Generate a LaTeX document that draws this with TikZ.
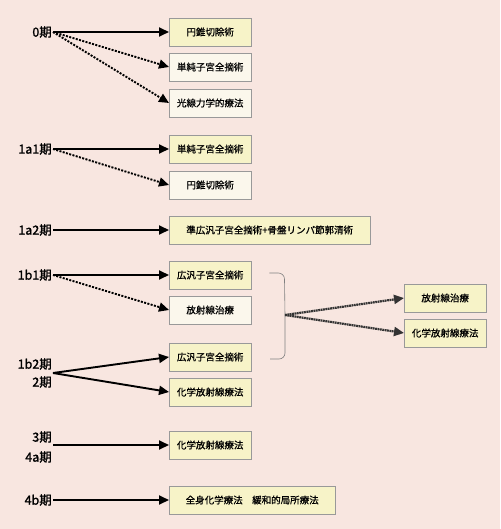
\documentclass[tikz,border=0pt]{standalone}
\usepackage{fontspec}
\setmainfont{Noto Sans CJK JP}[BoldFont={Noto Sans CJK JP}, BoldFeatures={FakeBold=1.6}]
\newfontfamily\boxfont{Noto Sans CJK JP}[FakeBold=0.8]
\usetikzlibrary{arrows.meta}
\definecolor{bgpink}{HTML}{F8E6E0}
\definecolor{boxyellow}{HTML}{F7F3C8}
\definecolor{boxcream}{HTML}{FBF7EC}
\tikzset{
    stage/.style={font=\fontsize{12.5}{18}\selectfont\bfseries, anchor=east, align=right, inner sep=1pt},
    opt/.style={draw=gray!80, fill=boxyellow, anchor=west, minimum width=82pt, minimum height=28pt, inner sep=2pt, font=\fontsize{9.5}{11}\boxfont},
    alt/.style={opt, fill=boxcream},
    main/.style={-{Triangle[length=10pt,width=9pt]}, line width=1.9pt},
    sub/.style={main, dash pattern=on 2pt off 1.4pt},
    fork/.style={main, draw=black!80, dash pattern=on 1.8pt off 0.6pt, line width=2.2pt},
}

\begin{document}
\begin{tikzpicture}[x=1pt,y=-1pt]
    \fill[bgpink] (0,0) rectangle (500,529);
    % stages
    \node[stage] (s0) at (53,32) {0期};
    \node[stage] (s1a1) at (53,149) {1a1期};
    \node[stage] (s1a2) at (53,230) {1a2期};
    \node[stage] (s1b1) at (53,275) {1b1期};
    \node[stage] (s1b2) at (53,373) {1b2期\\2期};
    \node[stage, font=\fontsize{12.5}{20}\selectfont\bfseries] (s3) at (53,447) {3期\\4a期};
    \node[stage] (s4b) at (53,500) {4b期};
    % treatments
    \node[opt] (b01) at (169,32) {円錐切除術};
    \node[alt] (b02) at (169,67) {単純子宮全摘術};
    \node[alt] (b03) at (169,103) {光線力学的療法};
    \node[opt] (b11) at (169,149) {単純子宮全摘術};
    \node[alt] (b12) at (169,185) {円錐切除術};
    \node[opt, minimum width=201pt] (b13) at (169,230) {準広汎子宮全摘術+骨盤リンパ節郭清術};
    \node[opt] (b21) at (169,275) {広汎子宮全摘術};
    \node[alt] (b22) at (169,310) {放射線治療};
    \node[opt] (b23) at (169,357) {広汎子宮全摘術};
    \node[opt] (b24) at (169,392) {化学放射線療法};
    \node[opt] (b31) at (404,298) {放射線治療};
    \node[opt] (b32) at (404,333) {化学放射線療法};
    \node[opt] (b41) at (169,445) {化学放射線療法};
    \node[opt, minimum width=166pt] (b51) at (169,500) {全身化学療法　緩和的局所療法};
    % arrows
    \draw[main] (s0.east) -- (b01.west);
    \draw[sub] (s0.east) -- (b02.west);
    \draw[sub] (s0.east) -- (b03.west);
    \draw[main] (s1a1.east) -- (b11.west);
    \draw[sub] (s1a1.east) -- (b12.west);
    \draw[main] (s1a2.east) -- (b13.west);
    \draw[main] (s1b1.east) -- (b21.west);
    \draw[sub] (s1b1.east) -- (b22.west);
    \draw[main] (s1b2.east) -- (b23.west);
    \draw[main] (s1b2.east) -- (b24.west);
    \draw[main] (s3.east |- b41.west) -- (b41.west);
    \draw[main] (s4b.east) -- (b51.west);
    % brace
    \coordinate (tip) at (285,315);
    \draw[gray, line width=0.6pt, rounded corners=6pt] (b21.east) ++(18,-2) -- ++(15,0) -- (tip) -- ++(0,44) -- ++(-15,0);
    \draw[fork] (tip) -- (b31.west);
    \draw[fork] (tip) -- (b32.west);
\end{tikzpicture}
\end{document}
